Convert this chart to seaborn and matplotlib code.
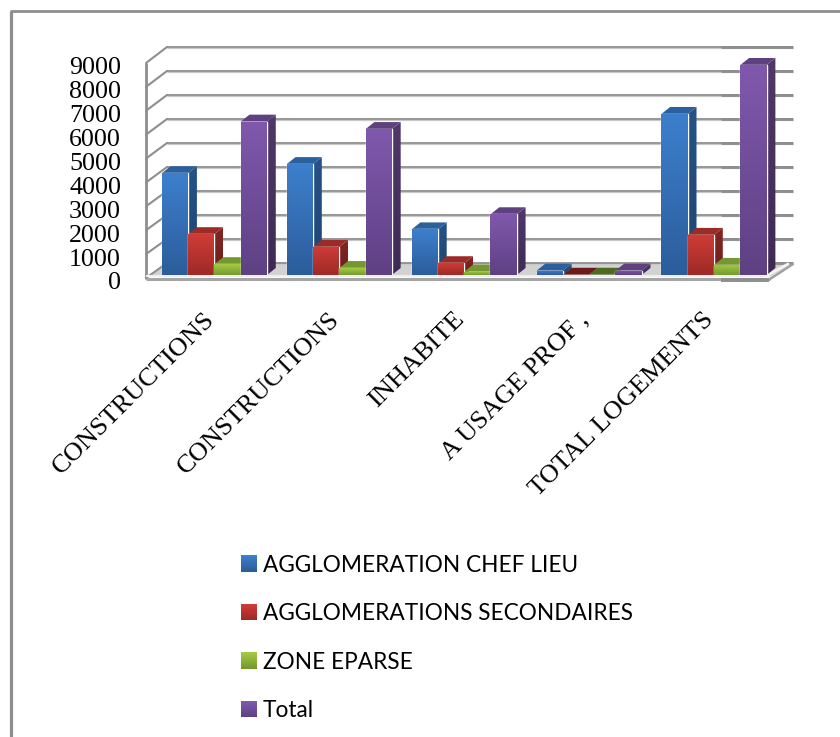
import numpy as np
import pandas as pd
import matplotlib
matplotlib.use("Agg")
import matplotlib.pyplot as plt
from matplotlib.colors import to_rgb
from matplotlib.legend_handler import HandlerBase
from matplotlib.patches import Polygon, Rectangle
from matplotlib.transforms import ScaledTranslation
import seaborn as sns

categories = ["CONSTRUCTIONS", "CONSTRUCTIONS", "INHABITE", "A USAGE PROF ,", "TOTAL LOGEMENTS"]
chef_lieu = [4240, 4620, 1900, 180, 6710]
secondaires = [1700, 1170, 490, 10, 1670]
zone_eparse = [450, 290, 140, 10, 420]
total = [6390, 6080, 2530, 180, 8750]
series_names = ["AGGLOMERATION CHEF LIEU", "AGGLOMERATIONS SECONDAIRES", "ZONE EPARSE", "Total"]
value_ticks = [0, 1000, 2000, 3000, 4000, 5000, 6000, 7000, 8000, 9000]

# front (top, bottom), side (top, bottom) and cap colours per series
front_colors = [("#3d7fcd", "#2c5d9b"), ("#cf3c37", "#9e2a26"), ("#a3cb42", "#779a2f"), ("#8058ad", "#5e4183")]
side_colors = [("#265286", "#1f4673"), ("#822622", "#6e1f1c"), ("#5f7d26", "#55701f"), ("#503868", "#3e2a55")]
cap_colors = ["#2a609c", "#9b2b27", "#74982f", "#5f4180"]
thin_cap_colors = ["#2a609c", "#6b1b19", "#4d6a20", "#5f4180"]

W, H = 840, 737
GROUP_PX, VALUE_PX = 124.9, 24 / 1000
DEPTH_X, DEPTH_Y = 8.8, 7
GRID = "#8e8e8e"

sns.set_theme(style="white")
plt.rcParams["font.family"] = ["Liberation Serif", "DejaVu Sans"]

fig = plt.figure(figsize=(W / 100, H / 100), dpi=100, facecolor="white")


def fig_rect(left, top, right, bottom):
    return [left / W, 1 - bottom / H, (right - left) / W, (bottom - top) / H]


# pixel-scaled backdrop carrying the frame, walls and floor
back = fig.add_axes([0, 0, 1, 1], zorder=0)
back.set_xlim(0, W)
back.set_ylim(H, 0)
back.axis("off")

back.plot([10.5, 10.5], [737, 11], color=GRID, lw=2.3, solid_capstyle="butt")
back.plot([9.5, 840], [11, 11], color=GRID, lw=2.0, solid_capstyle="butt")

floor = Polygon([(150, 276), (167, 263), (793, 263), (770, 277)], facecolor="#d2d2d2", edgecolor="none")
back.add_patch(floor)
for v in value_ticks:
    rear_y = 263 - v * VALUE_PX
    side_y = 278 - v * 215 / 9000
    back.plot([167, 793], [rear_y + 0.9] * 2, color="#c9c9c9", lw=0.9, solid_capstyle="butt")
    back.plot([167, 793], [rear_y, rear_y], color=GRID, lw=1.3, solid_capstyle="butt")
    back.plot([721, 793], [rear_y, rear_y], color=GRID, lw=2.0, solid_capstyle="butt")
    back.plot([146, 167], [side_y, rear_y], color=GRID, lw=1.5, solid_capstyle="round")
back.plot([146, 146], [63, 279], color=GRID, lw=2.0, solid_capstyle="butt")
back.plot([146, 770], [276, 276], color="#efefef", lw=1.5, solid_capstyle="butt")
back.plot([146, 770], [279.3, 279.3], color="#a5a5a5", lw=2.2, solid_capstyle="butt")
back.plot([721, 769], [279.6, 279.6], color=GRID, lw=2.8, solid_capstyle="butt")
back.plot([770, 793], [279, 264], color="#a0a0a0", lw=1.8)
back.plot([766, 788], [276, 264], color="#f4f4f4", lw=2.0)

# value labels sit on the front edge of the left wall
wall = fig.add_axes(fig_rect(146, 66, 147, 281), zorder=1)
wall.set_ylim(0, 9000)
wall.set_xticks([])
wall.set_yticks(value_ticks)
wall.set_yticklabels([str(v) for v in value_ticks], fontsize=18.7, color="black")
wall.tick_params(axis="y", length=0, pad=18)
wall.patch.set_visible(False)
sns.despine(ax=wall, left=True, bottom=True)

# bar plane: value 0 rests on the floor line
ax = fig.add_axes(fig_rect(146, 47, 793, 275), zorder=2)
ax.patch.set_visible(False)

df = pd.DataFrame({
    "group": np.tile(np.arange(len(categories)), 4),
    "zone": np.repeat(series_names, len(categories)),
    "value": chef_lieu + secondaires + zone_eparse + total,
})
palette = {n: c[0] for n, c in zip(series_names, front_colors)}
sns.barplot(data=df, x="group", y="value", hue="zone", hue_order=series_names, palette=palette,
            width=0.842, gap=0, saturation=1, legend=False, ax=ax)

x_limits = ((146 - 214.4) / GROUP_PX, (793 - 214.4) / GROUP_PX)
y_limits = (0, 228 / VALUE_PX)


def shaded(verts, top, bottom, z):
    """Fill a polygon with a vertical two-colour gradient."""
    ramp = np.linspace(to_rgb(top), to_rgb(bottom), 64)[:, None, :]
    xs, ys = zip(*verts)
    im = ax.imshow(ramp, extent=(min(xs), max(xs), min(ys), max(ys)), origin="upper",
                   aspect="auto", interpolation="bilinear", zorder=z, clip_on=True)
    clip = Polygon(verts, transform=ax.transData, facecolor="none", edgecolor="none")
    im.set_clip_path(clip)


dx = DEPTH_X / GROUP_PX
dy = DEPTH_Y / VALUE_PX
faces = []
for s, container in enumerate(ax.containers):
    for bar in container:
        faces.append((bar.get_x(), s, bar))

z = 3
for x0, s, bar in sorted(faces, key=lambda f: f[0]):
    w, h = bar.get_width(), bar.get_height()
    x1 = x0 + w
    cap = thin_cap_colors[s] if h < 50 else cap_colors[s]
    shaded([(x1, 0), (x1 + dx, dy), (x1 + dx, h + dy), (x1, h)], *side_colors[s], z)
    ax.add_patch(Polygon([(x0, h), (x1, h), (x1 + dx, h + dy), (x0 + dx, h + dy)],
                         facecolor=cap, edgecolor="none", zorder=z + 0.1))
    bar.set_zorder(z + 0.2)
    shaded([(x0, 0), (x1, 0), (x1, h), (x0, h)], *front_colors[s], z + 0.3)
    z += 1

ax.set_xlim(*x_limits)
ax.set_ylim(*y_limits)
ax.set_yticks([])
ax.set_xlabel("")
ax.set_ylabel("")
ax.set_xticks(range(len(categories)))
ax.set_xticklabels(categories, fontsize=19.0, color="black", rotation=45, ha="right",
                   va="center", rotation_mode="anchor")
ax.tick_params(axis="x", length=0, pad=29.5)
nudge = ScaledTranslation(-3.5 / 100, 0, fig.dpi_scale_trans)
for label in ax.get_xticklabels():
    label.set_transform(label.get_transform() + nudge)
sns.despine(ax=ax, left=True, bottom=True)


class GradientSwatch(HandlerBase):
    def create_artists(self, legend, orig, xdescent, ydescent, width, height, fontsize, trans):
        top, bottom = orig.stops
        n = 16
        cols = np.linspace(to_rgb(top), to_rgb(bottom), n)
        size = 11.5
        y0 = (height - size) / 2 - ydescent
        return [Rectangle((0, y0 + size * (n - 1 - i) / n), size, size / n + 0.2,
                          facecolor=c, edgecolor="none", transform=trans)
                for i, c in enumerate(cols)]


handles = []
for stops in front_colors:
    h = Rectangle((0, 0), 1, 1)
    h.stops = stops
    handles.append(h)

fig.legend(handles, series_names, handler_map={Rectangle: GradientSwatch()},
           loc="upper left", bbox_to_anchor=(241 / W, 1 - 554.5 / H), bbox_transform=fig.transFigure,
           frameon=False, borderpad=0, borderaxespad=0, handlelength=0.7, handletextpad=0.26,
           labelspacing=1.22, prop={"family": "Lato", "size": 16.25}, labelcolor="black")

fig.savefig("out.png", dpi=100)
